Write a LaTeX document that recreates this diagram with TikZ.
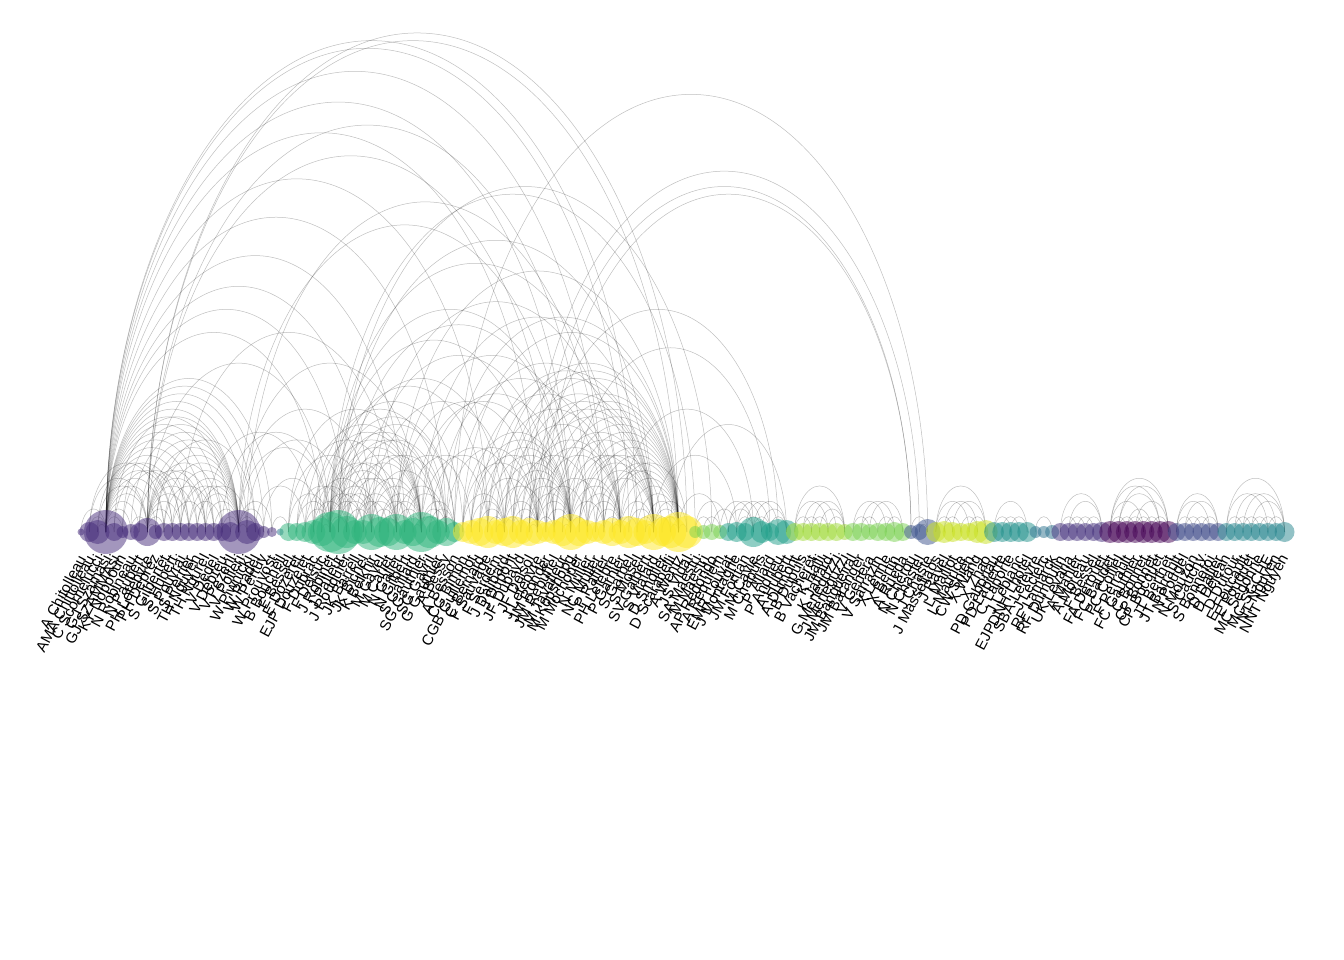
\documentclass[tikz,border=0pt]{standalone}
\usepackage{fontspec}
\setmainfont{Liberation Sans}
\usetikzlibrary{calc}
\pgfdeclarelayer{background}
\pgfsetlayers{background,main}
\definecolor{ga}{HTML}{472D7B}
\definecolor{gb}{HTML}{2FB47C}
\definecolor{gc}{HTML}{FDE725}
\definecolor{gd}{HTML}{7AD151}
\definecolor{ge}{HTML}{1F9E89}
\definecolor{gf}{HTML}{A0DA39}
\definecolor{gg}{HTML}{3B528B}
\definecolor{gh}{HTML}{C8E020}
\definecolor{gi}{HTML}{21918C}
\definecolor{gk}{HTML}{2C728E}
\definecolor{gl}{HTML}{46327E}
\definecolor{gm}{HTML}{440154}
\definecolor{gn}{HTML}{3E4A89}
\definecolor{go}{HTML}{25858E}
\tikzset{
  edge/.style={draw=black, draw opacity=0.25, line width=0.5pt},
  vtx/.style={circle, inner sep=0pt, draw=none, fill opacity=0.5},
  lab/.style={anchor=east, rotate=62, inner sep=0pt, font=\fontsize{15}{15}\selectfont, text=black},
}
\newcommand\arcE[2]{\draw[edge] let \p1=(n#1.center), \p2=(n#2.center) in (\p1) arc[start angle=180, end angle=0, x radius={(\x2-\x1)/2}, y radius={1.85*(\x2-\x1)/2}];}
\begin{document}
\begin{tikzpicture}[x=1pt,y=-1pt]
\useasboundingbox (0,0) rectangle (1344,960);
\foreach \i/\r/\c/\t in {
1/3.5/ga/A Chitolleau, 2/10/ga/AMA Chittolleau, 3/12/ga/C Scorrielucci, 4/22/ga/GJ Szamasi,
5/9/ga/GJ SZAMMAsi, 6/6/ga/KY Noppoun, 7/8/ga/N Robineau, 8/9/ga/N Paubert, 9/14/ga/PH Lefebvre,
10/7/ga/PH Deprez, 11/9/ga/S Gilbertet, 12/9/ga/S Hubert, 13/9/ga/S Pouvrai, 14/9/ga/S Perrier,
15/9/ga/TH Nguyen, 16/9/ga/TH Ngurel, 17/9/ga/V Dedel, 18/9/ga/V Debreu, 19/10/ga/V Pezeril,
20/22/ga/V Polleri, 21/12/ga/W Piwnicki, 22/9/ga/W Pradel, 23/6/ga/W Pertuy, 24/5/ga/W Prouvost,
25/3.5/gk/B Boucheil,
26/9/gb/E Bessel, 27/9/gb/E Dozeret, 28/10/gb/EJP Douzelet, 29/12/gb/F Dubrac, 30/14/gb/F Delsuc,
31/20/gb/J Robinet, 32/22/gb/J Palleur, 33/16/gb/J Rouquier, 34/12/gb/JK Barrell, 35/12/gb/JK Bichel,
36/18/gb/K Belkhir, 37/15/gb/M Gavel, 38/14/gb/M Carlet, 39/18/gb/N Galler, 40/12/gb/N Gilbert,
41/14/gb/S Gaillard, 42/20/gb/SG Gauthier, 43/16/gb/SG Gavril, 44/12/gb/G Gauthier, 45/14/gb/A Bessy,
46/10/gb/A Besson,
47/10/gc/CG Bimon, 48/12/gc/CGB Guillemot, 49/14/gc/C Bernard, 50/16/gc/F Sauvage, 51/12/gc/F Serdem,
52/14/gc/J Dalibard, 53/16/gc/J Dupont, 54/12/gc/JF Dupayd, 55/14/gc/JF Delsol, 56/12/gc/J Lefebvre,
57/10/gc/JM Ronder, 58/12/gc/JM Rebuffel, 59/14/gc/M Tavalleur, 60/18/gc/M Kopshopg, 61/14/gc/M Mochoper,
62/12/gc/N Muller, 63/10/gc/NC Muller, 64/12/gc/P Raffier, 65/14/gc/PH Lefebre, 66/12/gc/P Garnier,
67/16/gc/S Garbel, 68/14/gc/S Mosel, 69/12/gc/SV Galbert, 70/18/gc/S Vialard, 71/14/gc/D Smoller,
72/16/gc/D Scarabelli, 73/20/gc/A Wentz, 74/16/gc/JS Vidal,
75/6/gd/SA Maestri, 76/7/gd/M Maestri, 77/8/gd/AP Redondo, 78/7/gd/A Requiem,
79/9/ge/EMR Louvat, 80/10/ge/J Montagne, 81/9/ge/JM Fontan, 82/15/ge/M Cavie, 83/11/ge/M Chapuis,
84/9/ge/P Allard, 85/13/ge/P Andrieu, 86/12/ge/A Hubert,
87/9/gf/A Dumont, 88/9/gf/B Dupuis, 89/9/gf/B Vacheret, 90/9/gf/K Halli, 91/9/gf/K Jaffard,
92/9/gf/G Meneguzzi, 93/8/gf/J Meneguzzi,
94/9/gd/JM Bangueiral, 95/9/gd/JM Baranger, 96/8/gd/V Gehera, 97/9/gd/V Sarrazin, 98/9/gd/X Lenne,
99/10/gd/X Bertin, 100/9/gd/A Rueda,
101/7/gg/N Chérou, 102/8/gg/N Chastel, 103/13/gg/J Chaste,
104/10/gh/J Masseliaos, 105/11/gh/J Ravel, 106/10/gh/L Maillot, 107/9/gh/L Maurice, 108/9/gh/CW Shieh,
109/11/gh/X Wang, 110/12/gh/X Zhao,
111/10/gi/PD Gaboriau, 112/10/gi/PD Lapierre, 113/10/gi/C Laporte, 114/10/gi/J Leblanc, 115/10/gi/EJPDNH Lhotel,
116/6/gk/SBA Lefèvre, 117/6/gk/J Leclerc, 118/7/gk/RF Lamarck,
119/9/gl/RF Dumoulin, 120/9/gl/UK Levaria, 121/9/gl/A Mahler, 122/9/gl/A Moreau, 123/9/gl/F Bessel,
124/10/gl/FA Derouet,
125/11/gm/FC Baudet, 126/11/gm/PC Colliel, 127/11/gm/F Perrault, 128/11/gm/FC Gauthier,
129/11/gm/C Bonnet, 130/11/gm/CP Bonnet, 131/11/gm/CP Bocquet, 132/11/gm/JT Berthet,
133/9/gn/JT Barrault, 134/9/gn/N Pougel, 135/9/gn/N Mouzon, 136/9/gn/S Cauchy, 137/9/gn/S Bonnefoi,
138/9/gn/D Dallier,
139/9/go/D Dejean, 140/9/go/D Dufour, 141/9/go/E Foucault, 142/9/go/E Fouquet, 143/9/go/MC Segonne,
144/9/go/MC SGCHE, 145/9/go/NT Nguyen, 146/10/go/NNT Nguyen}
{
  \node[vtx, fill=\c, minimum size={2*\r pt}] (n\i) at ({81+8.3*(\i-1)},532) {};
  \node[lab] (l\i) at ({82+8.3*(\i-1)},556) {\t};
}
\begin{pgfonlayer}{background}
\foreach \a/\b in {
1/4,2/4,3/4,4/5,4/6,4/7,4/8,4/9,4/10,4/11,4/12,4/13,4/14,4/15,4/16,4/17,4/18,4/19,4/20,4/21,4/22,4/23,4/24,
5/20,6/20,7/20,8/20,9/20,10/20,11/20,12/20,13/20,14/20,15/20,16/20,17/20,18/20,19/20,20/21,20/22,20/23,20/24,
9/10,9/11,9/12,9/13,9/14,9/15,9/16,9/17,9/18,2/9,3/9,7/9,
3/12,6/14,11/17,12/16,13/19,10/22,15/21,2/11,5/13,8/16,14/18,
4/30,4/33,4/36,4/40,4/45,4/50,4/56,4/60,4/64,4/67,4/68,9/73,9/74,9/62,9/58,
20/31,20/36,21/33,18/31,16/29,22/28,9/31,20/42,13/39,24/26,23/30,20/60,21/64,
26/31,27/31,28/31,29/31,30/31,31/33,31/35,31/37,31/39,31/42,29/36,30/39,32/36,32/39,32/42,33/36,34/39,
35/39,36/39,37/39,38/42,39/42,40/42,41/42,42/44,42/45,42/46,39/45,36/44,33/40,28/34,27/33,30/35,34/38,
37/41,40/45,43/46,44/46,36/42,29/33,
26/36,27/39,28/42,29/42,30/42,31/46,32/46,33/45,34/44,35/45,26/42,31/44,32/44,33/42,35/42,37/42,31/36,31/40,32/37,
31/50,31/56,31/60,31/66,32/52,32/70,33/60,35/58,36/53,36/66,39/56,39/62,39/73,42/52,42/60,42/70,44/64,
45/56,45/73,46/68,38/48,40/50,41/58,43/54,30/47,29/45,32/77,31/75,
47/52,48/52,49/52,50/52,51/52,52/54,52/56,52/60,53/56,54/56,55/56,56/58,56/60,56/62,56/66,57/60,58/60,
59/60,60/62,60/64,60/66,60/70,61/66,62/66,63/66,64/66,65/66,66/68,66/70,66/73,67/70,68/70,69/70,70/72,
70/73,71/73,72/73,73/74,70/74,58/70,54/66,50/60,49/56,62/73,55/70,57/64,53/63,59/69,61/71,64/72,48/58,
51/57,65/74,63/70,56/73,52/66,
47/56,47/60,48/66,49/60,50/70,51/73,52/73,52/70,53/73,54/70,55/73,57/73,58/73,59/73,60/73,61/73,62/70,
63/73,64/73,65/73,67/73,68/73,69/73,47/73,49/70,50/66,53/70,55/66,57/70,59/66,61/70,53/60,54/60,55/60,51/60,48/60,
46/103,55/102,56/101,57/101,60/84,66/82,70/80,73/78,72/86,56/85,
75/77,76/78,75/79,77/80,78/82,79/82,80/82,81/83,82/84,82/86,83/86,84/86,80/84,79/83,81/85,
87/89,87/91,88/90,88/92,89/93,90/93,89/91,91/93,87/93,
94/96,95/97,94/98,96/100,97/99,98/100,95/99,
101/103,102/103,
104/106,104/108,105/107,106/110,107/109,108/110,105/109,104/110,
111/113,111/115,112/114,113/115,116/118,
119/121,119/124,120/122,121/123,122/124,120/124,
125/127,125/129,125/132,126/128,126/131,127/130,128/132,129/131,130/132,125/131,126/132,127/129,128/130,
133/135,133/138,134/136,135/137,136/138,134/138,133/137,
139/141,139/146,140/142,141/143,142/144,143/145,144/146,139/144,140/145,141/146,142/146}
{\arcE{\a}{\b}}
\end{pgfonlayer}
\end{tikzpicture}
\end{document}
